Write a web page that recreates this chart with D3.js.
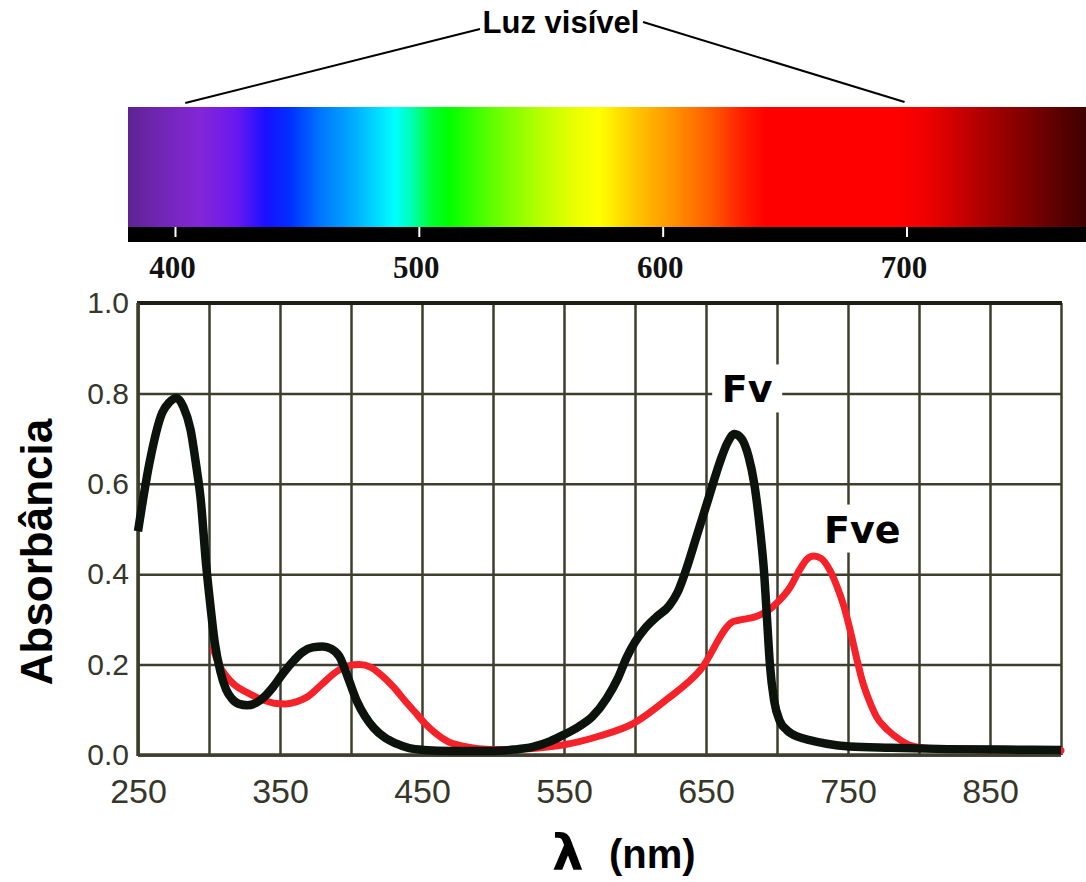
<!DOCTYPE html>
<html>
<head>
<meta charset="utf-8">
<script src="https://cdn.jsdelivr.net/npm/d3@7"></script>
<style>
  html, body { margin: 0; padding: 0; background: #fff; }
  svg { display: block; }
</style>
</head>
<body>
<svg id="chart" width="1086" height="882"></svg>
<script>
// ---------------- DATA ----------------
// Visible-spectrum colour stops (wavelength nm, colour)
const spectrumNm     = [380, 395, 410, 425, 437, 447, 460, 472, 482, 490, 497, 505, 512, 530, 550, 565, 574, 588, 605, 620, 632, 642, 695, 708, 725, 745, 773];
const spectrumColors = ["#5e2391", "#7226b8", "#8426d6", "#6a18f0", "#1a10ff", "#0030ff", "#0078ff", "#00a8ff", "#00d8ff", "#00ffff", "#00ffb0", "#00ff30", "#00ff00", "#60ff00", "#b8ff00", "#eeff00", "#ffff00", "#ffc800", "#ff9000", "#ff5a00", "#ff2000", "#ff0000", "#ff0000", "#f00000", "#c00000", "#880000", "#400000"];
const spectrumTicks  = [400, 500, 600, 700];

// Absorbance curves (wavelength nm, absorbance)
const fvNm = [250, 258, 267, 272, 277, 282, 287, 291, 294, 298, 301, 304, 308, 312, 316, 321, 327, 333, 338, 345, 352, 360, 366, 373, 380, 386, 392, 398, 404, 410, 416, 424, 432, 441, 451, 470, 500, 515, 528, 540, 550, 560, 570, 580, 588, 594, 600, 607, 615, 624, 630, 636, 643, 651, 660, 665, 670, 675, 680, 684, 688, 691, 693, 695, 698, 702, 707, 715, 723, 735, 751, 780, 820, 860, 900];
const fvAbs = [0.495, 0.645, 0.757, 0.78, 0.79, 0.77, 0.72, 0.64, 0.57, 0.42, 0.33, 0.25, 0.185, 0.145, 0.125, 0.113, 0.11, 0.115, 0.126, 0.15, 0.18, 0.21, 0.228, 0.238, 0.24, 0.235, 0.217, 0.17, 0.12, 0.085, 0.06, 0.038, 0.025, 0.015, 0.011, 0.009, 0.009, 0.012, 0.018, 0.03, 0.045, 0.062, 0.085, 0.125, 0.17, 0.215, 0.25, 0.28, 0.305, 0.33, 0.36, 0.41, 0.48, 0.56, 0.65, 0.69, 0.71, 0.70, 0.66, 0.60, 0.50, 0.40, 0.30, 0.20, 0.12, 0.075, 0.055, 0.04, 0.033, 0.025, 0.019, 0.016, 0.013, 0.012, 0.011];

const fveNm = [303, 307, 312, 318, 327, 338, 347, 354, 362, 370, 380, 390, 398, 406, 414, 422, 430, 438, 445, 452, 460, 468, 478, 490, 505, 525, 549, 575, 599, 622, 646, 669, 676, 684, 693, 701, 709, 716, 721, 726, 731, 737, 742, 747, 752, 756, 760, 765, 770, 778, 787, 795, 805, 830, 870, 900];
const fveAbs = [0.235, 0.2, 0.175, 0.155, 0.138, 0.122, 0.114, 0.113, 0.118, 0.13, 0.158, 0.185, 0.197, 0.2, 0.194, 0.175, 0.15, 0.12, 0.095, 0.07, 0.047, 0.03, 0.02, 0.014, 0.012, 0.014, 0.022, 0.042, 0.07, 0.122, 0.188, 0.295, 0.3, 0.305, 0.318, 0.34, 0.37, 0.41, 0.433, 0.44, 0.435, 0.41, 0.375, 0.33, 0.27, 0.215, 0.165, 0.12, 0.085, 0.055, 0.033, 0.02, 0.015, 0.012, 0.011, 0.01];

// Axis ticks
const xTicks      = [250, 300, 350, 400, 450, 500, 550, 600, 650, 700, 750, 800, 850, 900];
const xTickLabels = [250, 350, 450, 550, 650, 750, 850];
const yTicks      = [0, 0.2, 0.4, 0.6, 0.8, 1.0];

// Curve labels: [text, nm, absorbance]
const curveLabels = [["Fv", 679, 0.78], ["Fve", 760, 0.47]];

// ---------------- DRAW ----------------
const svg = d3.select("#chart");

// --- spectrum bar ---
const specLeft = 128, specRight = 1086, specTop = 107, specBottom = 227, stripBottom = 242;
const xs = d3.scaleLinear().domain([400, 700]).range([175.5, 907]);

const defs = svg.append("defs");
const grad = defs.append("linearGradient")
  .attr("id", "spec").attr("gradientUnits", "userSpaceOnUse")
  .attr("x1", specLeft).attr("x2", specRight).attr("y1", 0).attr("y2", 0);
spectrumNm.forEach((nm, i) => {
  grad.append("stop")
    .attr("offset", (xs(nm) - specLeft) / (specRight - specLeft))
    .attr("stop-color", spectrumColors[i]);
});
svg.append("rect").attr("x", specLeft).attr("y", specTop)
  .attr("width", specRight - specLeft).attr("height", specBottom - specTop)
  .attr("fill", "url(#spec)");
svg.append("rect").attr("x", specLeft).attr("y", specBottom)
  .attr("width", specRight - specLeft).attr("height", stripBottom - specBottom)
  .attr("fill", "#000");
svg.selectAll(".stick").data(spectrumTicks).join("line")
  .attr("x1", d => xs(d)).attr("x2", d => xs(d))
  .attr("y1", specBottom).attr("y2", specBottom + 10)
  .attr("stroke", "#fff").attr("stroke-width", 2);
svg.selectAll(".slabel").data(spectrumTicks).join("text")
  .attr("x", d => xs(d) - 3).attr("y", 278)
  .attr("text-anchor", "middle")
  .attr("font-family", "'Liberation Serif', 'Times New Roman', serif")
  .attr("font-weight", "bold").attr("font-size", 31)
  .attr("fill", "#111")
  .text(d => d);

// "Luz visível" annotation
svg.append("text").attr("x", 561).attr("y", 33)
  .attr("text-anchor", "middle")
  .attr("font-family", "'Liberation Sans', Arial, sans-serif")
  .attr("font-weight", "bold").attr("font-size", 31)
  .attr("fill", "#000").text("Luz visível");
svg.append("line").attr("x1", 480).attr("y1", 29).attr("x2", xs(404)).attr("y2", 103)
  .attr("stroke", "#000").attr("stroke-width", 2);
svg.append("line").attr("x1", 643).attr("y1", 22).attr("x2", xs(699)).attr("y2", 102)
  .attr("stroke", "#000").attr("stroke-width", 2);

// --- absorbance plot ---
const L = 138, R = 1061, T = 303, B = 755;
const x = d3.scaleLinear().domain([250, 900]).range([L, R]);
const y = d3.scaleLinear().domain([0, 1]).range([B, T]);
const gridColor = "#3e3e2c";
const tickColor = "#36362a";

const gx = svg.append("g").attr("transform", `translate(0,${B})`)
  .call(d3.axisBottom(x).tickValues(xTicks).tickSize(-(B - T)).tickPadding(24)
    .tickFormat(d => xTickLabels.includes(d) ? d : ""));
gx.select(".domain").remove();
gx.selectAll(".tick line").attr("stroke", gridColor).attr("stroke-width", 2.5);
gx.selectAll(".tick text").attr("font-family", "'Liberation Sans', Arial, sans-serif")
  .attr("font-size", 34).attr("fill", tickColor);

const gy = svg.append("g").attr("transform", `translate(${L},0)`)
  .call(d3.axisLeft(y).tickValues(yTicks).tickSize(-(R - L)).tickPadding(9)
    .tickFormat(d3.format(".1f")));
gy.select(".domain").remove();
gy.selectAll(".tick line").attr("stroke", gridColor).attr("stroke-width", 2.5);
gy.selectAll(".tick text").attr("font-family", "'Liberation Sans', Arial, sans-serif")
  .attr("font-size", 30).attr("fill", tickColor);

// frame
svg.append("line").attr("x1", L - 1).attr("x2", R + 1).attr("y1", T).attr("y2", T)
  .attr("stroke", "#1e1e14").attr("stroke-width", 4);
svg.append("line").attr("x1", L).attr("x2", L).attr("y1", T).attr("y2", B + 1)
  .attr("stroke", gridColor).attr("stroke-width", 3.5);
svg.append("line").attr("x1", L).attr("x2", R).attr("y1", B).attr("y2", B)
  .attr("stroke", gridColor).attr("stroke-width", 3.5);

// white gaps behind the curve labels
const labelFont = "'DejaVu Sans', Verdana, sans-serif";
curveLabels.forEach(([t, nm, a]) => {
  const w = t.length * 25 + 20;
  svg.append("rect")
    .attr("x", x(nm) - w / 2).attr("y", y(a) - 38)
    .attr("width", w).attr("height", 48)
    .attr("fill", "#fff");
});

// curves
const line = d3.line().x(d => x(d[0])).y(d => y(d[1])).curve(d3.curveMonotoneX);
svg.append("path").datum(d3.zip(fveNm, fveAbs))
  .attr("d", line).attr("fill", "none")
  .attr("stroke", "#f5222a").attr("stroke-width", 7)
  .attr("stroke-linejoin", "round").attr("stroke-linecap", "round");
svg.append("path").datum(d3.zip(fvNm, fvAbs))
  .attr("d", line).attr("fill", "none")
  .attr("stroke", "#0c120c").attr("stroke-width", 8.5)
  .attr("stroke-linejoin", "round").attr("stroke-linecap", "butt");

// curve labels
svg.selectAll(".clabel").data(curveLabels).join("text")
  .attr("x", d => x(d[1])).attr("y", d => y(d[2]))
  .attr("text-anchor", "middle")
  .attr("font-family", labelFont).attr("font-weight", "bold").attr("font-size", 38)
  .attr("fill", "#000").text(d => d[0]);

// axis titles
svg.append("text")
  .attr("transform", "translate(52,552) rotate(-90)")
  .attr("text-anchor", "middle")
  .attr("font-family", "'Liberation Sans', Arial, sans-serif")
  .attr("font-weight", "bold").attr("font-size", 44)
  .attr("fill", "#000").text("Absorbância");

svg.append("text").attr("x", 552).attr("y", 870)
  .attr("font-family", "'DejaVu Sans', sans-serif")
  .attr("font-weight", "bold").attr("font-size", 50)
  .attr("fill", "#000").text("λ");
svg.append("text").attr("x", 609).attr("y", 868)
  .attr("font-family", "'Liberation Sans', Arial, sans-serif")
  .attr("font-weight", "bold").attr("font-size", 40)
  .attr("fill", "#000").text("(nm)");
</script>
</body>
</html>
